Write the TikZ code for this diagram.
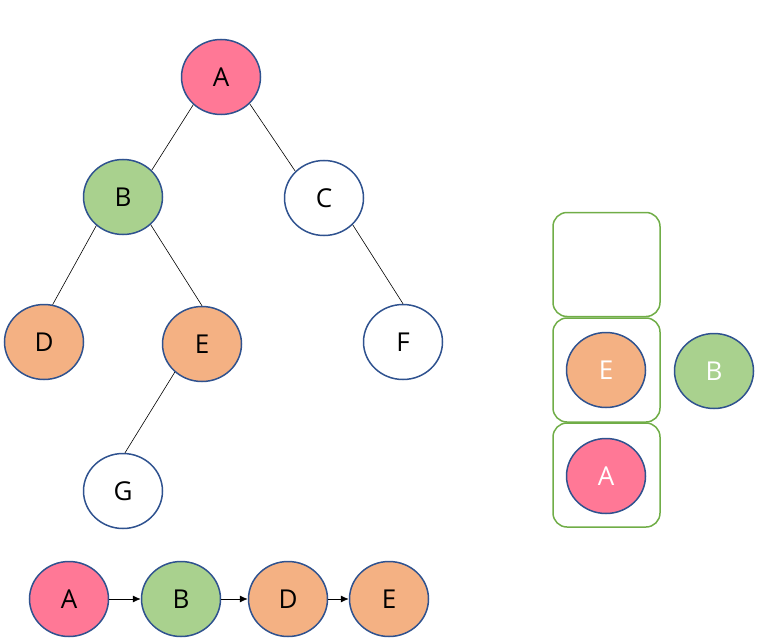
\documentclass[tikz,border=0pt]{standalone}
\usepackage{fontspec}
\setmainfont{Open Sans}
\usetikzlibrary{shapes.geometric,arrows.meta}
\definecolor{cpink}{HTML}{FF7896}
\definecolor{cgreen}{HTML}{A9D18E}
\definecolor{corange}{HTML}{F4B183}
\definecolor{cblue}{HTML}{2F528F}
\definecolor{cbox}{HTML}{70AD47}
\newcommand{\nodefont}{\fontsize{26pt}{30pt}\selectfont}
\begin{document}
\begin{tikzpicture}[x=1pt,y=-1pt,
  tn/.style={ellipse,draw=cblue,line width=1.5pt,minimum width=79pt,minimum height=75pt,inner sep=0pt,font=\nodefont},
  pinkn/.style={tn,fill=cpink},
  greenn/.style={tn,fill=cgreen},
  orangen/.style={tn,fill=corange},
  whiten/.style={tn,fill=white},
  stackbox/.style={draw=cbox,line width=1.5pt,rounded corners=14pt,minimum width=107pt,minimum height=104pt,inner sep=0pt},
  edge/.style={draw=black,line width=0.6pt},
  arr/.style={draw=black,line width=0.8pt,-{Latex[length=8pt,width=7pt]}}]
\useasboundingbox (0,0) rectangle (767,639);
% tree
\node[pinkn] (A) at (221,77) {A};
\node[greenn] (B) at (123,197) {B};
\node[whiten] (C) at (324,198) {C};
\node[orangen] (D) at (44,342) {D};
\node[orangen] (E) at (202,344) {E};
\node[whiten] (F) at (403,342) {F};
\node[whiten] (G) at (123,491) {G};
\draw[edge] (A.225) -- (B.43);
\draw[edge] (A.317) -- (C.137);
\draw[edge] (B.227) -- (D.77);
\draw[edge] (B.315) -- (E.90);
\draw[edge] (E.226) -- (G.87);
\draw[edge] (C.317) -- (F.90);
% stack
\node[stackbox] (s1) at (606.5,264.5) {};
\node[stackbox] (s2) at (606.5,370) {};
\node[stackbox] (s3) at (606.5,475) {};
\node[orangen,text=white] (sE) at (606,370) {E};
\node[pinkn,text=white] (sA) at (606,476) {A};
\node[greenn,text=white] (sB) at (714,371) {B};
% sequence
\node[pinkn] (qA) at (69,599) {A};
\node[greenn] (qB) at (181,599) {B};
\node[orangen] (qD) at (288,599) {D};
\node[orangen] (qE) at (389,599) {E};
\draw[arr] (qA) -- (qB);
\draw[arr] (qB) -- (qD);
\draw[arr] (qD) -- (qE);
\end{tikzpicture}
\end{document}
